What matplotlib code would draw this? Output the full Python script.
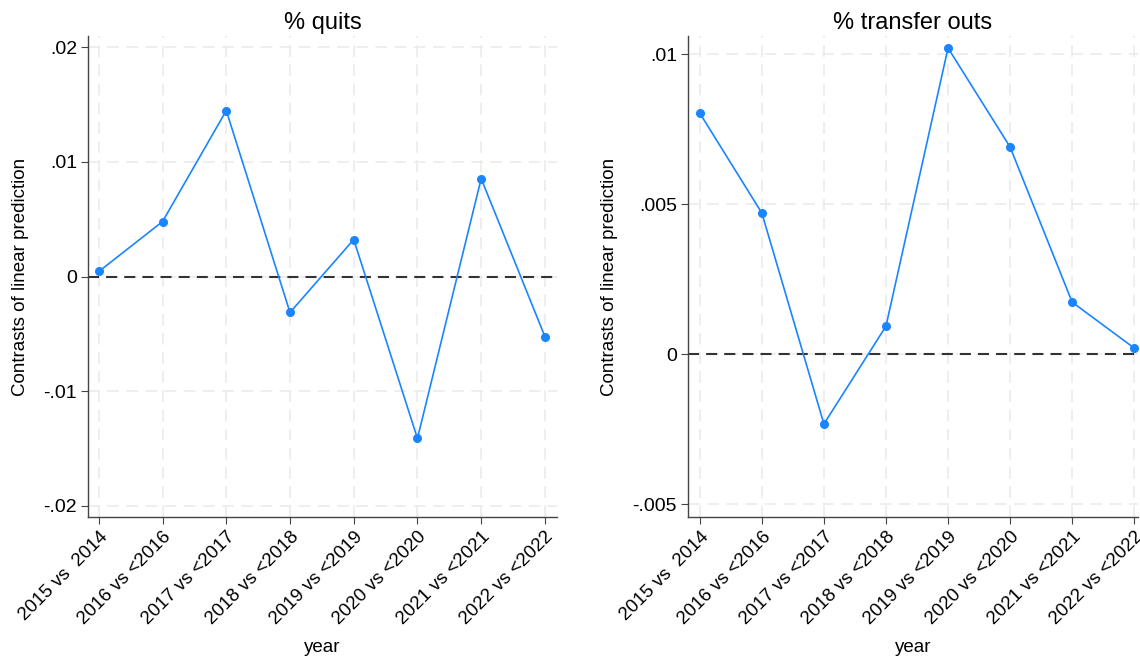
import numpy as np
import matplotlib
matplotlib.use('Agg')
import matplotlib.pyplot as plt

plt.rcParams['font.family'] = ['Liberation Sans', 'DejaVu Sans']

years = ['2015 vs  2014', '2016 vs <2016', '2017 vs <2017', '2018 vs <2018',
         '2019 vs <2019', '2020 vs <2020', '2021 vs <2021', '2022 vs <2022']
quits = [0.00044, 0.0048, 0.01449, -0.00314, 0.00323, -0.01414, 0.00855, -0.00524]
transfers = [0.00803, 0.0047, -0.00233, 0.00093, 0.0102, 0.0069, 0.00173, 0.0002]

quit_ticks = [-0.02, -0.01, 0, 0.01, 0.02]
quit_labels = ['-.02', '-.01', '0', '.01', '.02']
trans_ticks = [-0.005, 0, 0.005, 0.01]
trans_labels = ['-.005', '0', '.005', '.01']

blue = '#1a85ff'

fig = plt.figure(figsize=(11.4, 6.62), dpi=100)
ax1 = fig.add_axes([0.0772, 0.219, 0.4114, 0.7266])
ax2 = fig.add_axes([0.6035, 0.219, 0.3947, 0.7266])

def panel(ax, vals, title, yt, ytl, ylim, xlim):
    x = np.arange(len(years))
    ax.axhline(0, color='#333333', lw=1.5, ls=(0, (5.3, 3.4)), zorder=2)
    ax.plot(x, vals, color=blue, lw=1.2, marker='o', ms=5.5, zorder=3)
    ax.set_xticks(x)
    ax.set_xticklabels(years, rotation=45, ha='right', rotation_mode='anchor', fontsize=13.5)
    ax.set_yticks(yt)
    ax.set_yticklabels(ytl, fontsize=14)
    ax.set_ylim(*ylim)
    ax.set_xlim(*xlim)
    ax.grid(True, color='#ebebeb', lw=1.2, ls=(0, (7, 4.5)), zorder=0)
    ax.set_axisbelow(True)
    for s in ['top', 'right']:
        ax.spines[s].set_visible(False)
    for s in ['left', 'bottom']:
        ax.spines[s].set_color('#444444')
        ax.spines[s].set_linewidth(1.0)
    ax.tick_params(axis='both', direction='out', length=5, color='#444444', pad=3)
    ax.set_title(title, fontsize=17, pad=5)
    ax.set_xlabel('year', fontsize=13.5, labelpad=8)
    ax.set_ylabel('Contrasts of linear prediction', fontsize=13.5, labelpad=10)

panel(ax1, quits, '% quits', quit_ticks, quit_labels, (-0.021, 0.021), (-0.17, 7.19))
panel(ax2, transfers, '% transfer outs', trans_ticks, trans_labels, (-0.00543, 0.0106), (-0.19, 7.06))

fig.savefig('out.png', dpi=100, facecolor='white')
